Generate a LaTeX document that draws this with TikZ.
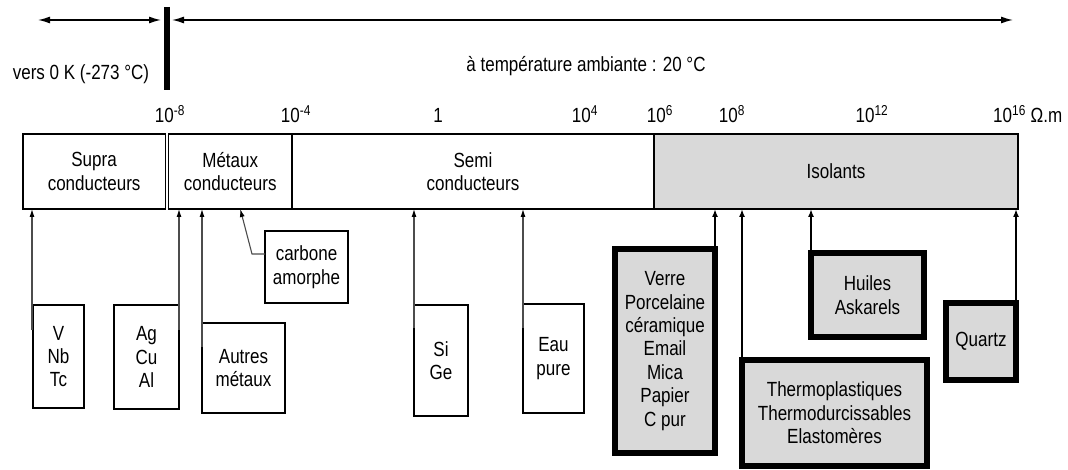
\documentclass[tikz,border=0pt]{standalone}
\usepackage{fontspec}
\setmainfont{Liberation Sans}[FakeStretch=0.83]
\usetikzlibrary{arrows.meta,calc}
\definecolor{isogray}{HTML}{D9D9D9}
\begin{document}
\begin{tikzpicture}[x=1pt,y=-1pt,
  txt/.style={font=\fontsize{20.5}{23.4}\selectfont, align=center, inner sep=0pt},
  thinbox/.style={txt, draw=black, line width=1.2pt, outer sep=0pt},
  thickbox/.style={txt, draw=black, fill=isogray, line width=6pt, outer sep=0pt},
  barbox/.style={txt, draw=black, line width=1.3pt, outer sep=0pt, minimum height=75pt},
  conn/.style={draw=black!70, line width=1.1pt, -{Latex[length=8pt,width=5pt,color=black]}},
  thickconn/.style={draw=black, line width=2.2pt, -{Latex[length=8pt,width=6pt]}},
  toparr/.style={line width=1.4pt},
  scalelbl/.style={txt, anchor=base}
]
\fill[white] (0,0) rectangle (1068,470);
\useasboundingbox (0,0) rectangle (1068,470);

% top arrows and bar
\coordinate (bartop) at (167,7);
\coordinate (barbot) at (167,90);
\draw[line width=6pt] (bartop) -- (barbot);
\coordinate (la) at (38,20);
\coordinate (lb) at (161,20);
\coordinate (ra) at (172,20);
\coordinate (rb) at (1013,20);
\draw[toparr, {Latex[length=12pt,width=7pt]}-{Latex[length=12pt,width=7pt]}] (la) -- (lb);
\draw[toparr, {Latex[length=12pt,width=7pt]}-{Latex[length=12pt,width=7pt]}] (ra) -- (rb);
\node[txt, anchor=base] (zerok) at (81,80) {vers 0 K (-273 °C)};
\node[txt, anchor=base] (amb) at (586,72) {à température ambiante : 20 °C};

% scale labels
\node[scalelbl] (s1) at (170,123) {10\textsuperscript{-8}};
\node[scalelbl] (s2) at (296,123) {10\textsuperscript{-4}};
\node[scalelbl] (s3) at (438,123) {1};
\node[scalelbl] (s4) at (585,123) {10\textsuperscript{4}};
\node[scalelbl] (s5) at (660,123) {10\textsuperscript{6}};
\node[scalelbl] (s6) at (732,123) {10\textsuperscript{8}};
\node[scalelbl] (s7) at (872,123) {10\textsuperscript{12}};
\node[scalelbl, anchor=base west] (s8) at (993,123) {10\textsuperscript{16} Ω.m};

% main bar
\node[barbox, fill=isogray, minimum width=364pt] (isol) at (836,171.5) {Isolants};
\node[barbox, minimum width=362pt] (semi) at (473,171.5) {Semi\\conducteurs};
\node[barbox, minimum width=123.5pt] (metaux) at (230.25,171.5) {Métaux\\conducteurs};
\node[barbox, minimum width=142.2pt] (supra) at (94.1,171.5) {Supra\\conducteurs};
\draw[line width=2.6pt] (metaux.north east) -- (metaux.south east);

% lower boxes
\node[thinbox, minimum width=51pt, minimum height=103pt] (vnb) at (58.5,356.5) {V\\Nb\\Tc};
\node[thinbox, minimum width=65pt, minimum height=104pt] (ag) at (146.5,357) {Ag\\Cu\\Al};
\node[thinbox, minimum width=83pt, minimum height=90pt] (autres) at (243.5,368) {Autres\\métaux};
\node[thinbox, minimum width=83pt, minimum height=72pt] (carb) at (306.5,267) {carbone\\amorphe};
\node[thinbox, minimum width=54pt, minimum height=111pt] (sige) at (441,360.5) {Si\\Ge};
\node[thinbox, minimum width=61pt, minimum height=109pt] (eau) at (553.5,358.5) {Eau\\pure};

\node[thickbox, minimum width=100pt, minimum height=204pt] (verre) at (665,351)
  {Verre\\Porcelaine\\céramique\\Email\\Mica\\Papier\\C pur};
\node[thickbox, minimum width=185pt, minimum height=106pt] (thermo) at (834.5,413)
  {Thermoplastiques\\Thermodurcissables\\Elastomères};
\node[thickbox, minimum width=113pt, minimum height=84pt] (huiles) at (867.5,295)
  {Huiles\\Askarels};
\node[thickbox, minimum width=70pt, minimum height=77pt] (quartz) at (981,341.5)
  {Quartz};

% connectors
\draw[conn] ($(vnb.north west)+(-1,25)$) -- ($(vnb.north west |- supra.south)+(-1,0)$);
\draw[conn] ($(ag.north east)+(0,25)$) -- (ag.north east |- metaux.south);
\draw[conn] ($(autres.north west)+(0,24)$) -- (autres.north west |- metaux.south);
\coordinate (carbtip) at ($(metaux.south)+(10,0)$);
\draw[conn] ($(carb.north west)+(0,23)$) -- ++(-13,0) -- (carbtip);
\draw[conn] ($(sige.north west)+(0,23)$) -- (sige.north west |- semi.south);
\draw[conn] ($(eau.north west)+(0,24)$) -- (eau.north west |- semi.south);

\draw[thickconn] (verre.north east) -- (verre.north east |- isol.south);
\draw[thickconn] (thermo.north west) -- (thermo.north west |- isol.south);
\draw[thickconn] (huiles.north west) -- (huiles.north west |- isol.south);
\draw[thickconn] (quartz.north east) -- (quartz.north east |- isol.south);
\end{tikzpicture}
\end{document}
